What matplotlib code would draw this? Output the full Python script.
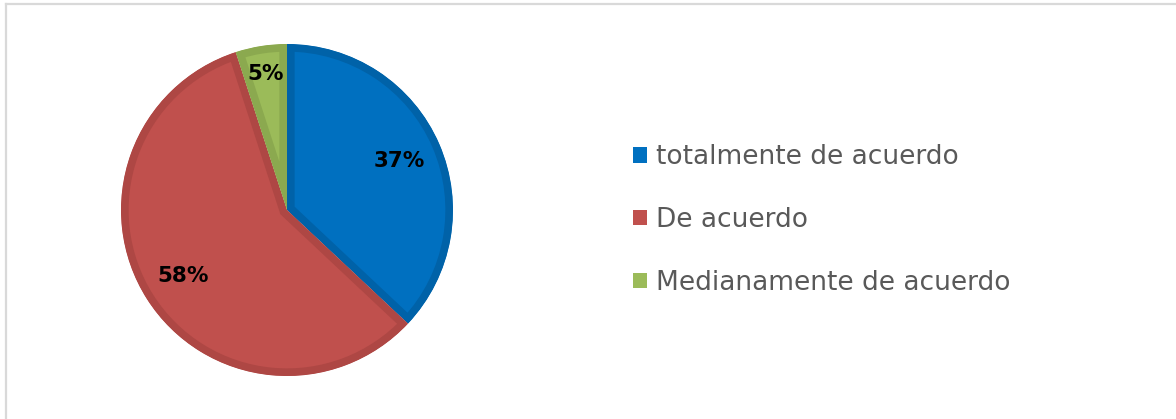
import matplotlib
matplotlib.use("Agg")
from matplotlib import pyplot as plt
from matplotlib.lines import Line2D
from matplotlib.patches import Patch

# data
labels = ["totalmente de acuerdo", "De acuerdo", "Medianamente de acuerdo"]
values = [37, 58, 5]
fill_colors = ["#0070C0", "#C0504D", "#9BBB59"]
edge_colors = ["#0062A8", "#AE4744", "#8BA94F"]

W, H = 1176, 419
fig = plt.figure(figsize=(W / 100, H / 100), dpi=100)

# light gray frame (only left and top edges visible)
fig.add_artist(Line2D([5.5 / W, 5.5 / W], [0, 1 - 4.5 / H], color="#D9D9D9", lw=1.6))
fig.add_artist(Line2D([5.5 / W, 1], [1 - 4.5 / H, 1 - 4.5 / H], color="#D9D9D9", lw=1.6))

cx, cy, r = 287, 210, 166
ax = fig.add_axes([(cx - r) / W, (H - cy - r) / H, 2 * r / W, 2 * r / H])

wedges, texts, autotexts = ax.pie(
    values, colors=fill_colors, startangle=90, counterclock=False,
    autopct="%d%%", pctdistance=0.74, radius=1,
    textprops=dict(fontsize=15.5, fontweight="bold", color="black"),
)
for w, ec in zip(wedges, edge_colors):
    w.set_edgecolor(ec)
    w.set_linewidth(11)
    w.set_joinstyle("miter")
    w.set_clip_on(True)
    w.set_clip_path(w)

# small slice label sits further out
x, y = autotexts[2].get_position()
autotexts[2].set_position((x * 0.83 / 0.74, y * 0.83 / 0.74))

ax.set_xlim(-1, 1)
ax.set_ylim(-1, 1)
ax.axis("off")

handles = [Patch(facecolor=c, edgecolor="none") for c in fill_colors]
fig.legend(handles, labels, loc="center left", bbox_to_anchor=(622 / W, 1 - 220 / H),
           frameon=False, fontsize=19, labelcolor="#595959", borderaxespad=0,
           handlelength=0.53, handleheight=0.53, handletextpad=0.35, labelspacing=1.39)

fig.savefig("out.png", dpi=100)
